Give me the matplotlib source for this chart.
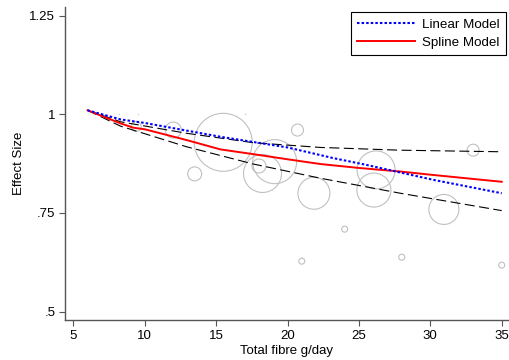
import matplotlib

matplotlib.use("Agg")
import matplotlib.pyplot as plt
import numpy as np

plt.rcParams["font.family"] = ["Liberation Sans", "DejaVu Sans"]

# study points (fibre g/day, effect size, bubble radius in px)
study_x = [12.0, 15.5, 13.5, 20.7, 19.1, 18.25, 18.0, 21.85, 26.2, 26.05, 33.0, 30.95,
           24.0, 21.0, 28.0, 35.0, 9.4]
study_y = [0.960, 0.929, 0.849, 0.960, 0.880, 0.850, 0.869, 0.800, 0.859, 0.808, 0.909,
           0.759, 0.709, 0.628, 0.638, 0.618, 0.969]
study_r = [8, 29, 7, 6, 22, 19, 7, 16, 19, 17, 6, 15, 3, 3, 3, 3, 5]
dot_x = [8.2, 9.55, 17.0]
dot_y = [1.0, 1.0, 1.0]

lin_x = [6, 8.3, 10, 15.3, 20, 23.2, 25.5, 27.6, 30.2, 35]
lin_y = [1.010, 0.987, 0.978, 0.943, 0.916, 0.889, 0.872, 0.855, 0.834, 0.800]

spl_x = [6, 8.3, 9.2, 10, 12.9, 15.3, 17.6, 20, 22.3, 25, 27.9, 30, 35]
spl_y = [1.010, 0.977, 0.966, 0.962, 0.935, 0.911, 0.899, 0.886, 0.874, 0.864, 0.855, 0.847, 0.829]

up_x = [6, 8.3, 12.9, 17.6, 22.3, 27.9, 35]
up_y = [1.010, 0.981, 0.952, 0.928, 0.916, 0.909, 0.905]
lo_x = [6, 8.3, 12.9, 17.6, 22.3, 27.9, 35]
lo_y = [1.010, 0.970, 0.918, 0.874, 0.838, 0.800, 0.756]

xticks = [5, 10, 15, 20, 25, 30, 35]
yticks = [0.5, 0.75, 1.0, 1.25]
ytick_labels = [".5", ".75", "1", "1.25"]


def main():
    fig = plt.figure(figsize=(5.1, 3.6), dpi=100)
    ax = fig.add_axes([0.1275, 0.110, 0.868, 0.871])

    sizes = [(1.44 * r) ** 2 for r in study_r]
    ax.scatter(study_x, study_y, s=sizes, facecolors="none", edgecolors="#c0c0c0",
               linewidths=0.8, zorder=1)
    ax.scatter(dot_x, dot_y, s=1.0, color="#c8c8c8", linewidths=0, zorder=1)

    ax.plot(up_x, up_y, color="black", lw=0.8, dashes=(9, 4), zorder=2)
    ax.plot(lo_x, lo_y, color="black", lw=0.8, dashes=(9, 4), zorder=2)
    ax.plot(spl_x, spl_y, color="red", lw=1.4, label="Spline Model", zorder=3)
    ax.plot(lin_x, lin_y, color="blue", lw=1.5, dashes=(1.2, 1.0), label="Linear Model",
            zorder=4)

    ax.set_xlim(4.42, 35.42)
    ax.set_ylim(0.478, 1.272)
    ax.set_xticks(xticks)
    ax.set_yticks(yticks)
    ax.set_yticklabels(ytick_labels)
    for s in ("top", "right"):
        ax.spines[s].set_visible(False)
    for s in ("left", "bottom"):
        ax.spines[s].set_color("#555555")
        ax.spines[s].set_linewidth(1.0)
    ax.tick_params(direction="out", length=4, width=0.8, color="#555555",
                   labelsize=9.5, pad=3)
    ax.set_xlabel("Total fibre g/day", fontsize=9.5, labelpad=2)
    ax.set_ylabel("Effect Size", fontsize=9.5, labelpad=3)

    h, l = ax.get_legend_handles_labels()
    leg = ax.legend(h[::-1], l[::-1], loc="upper right",
                    bbox_to_anchor=(505.7 / 510, 1 - 12.3 / 360),
                    bbox_transform=fig.transFigure, fontsize=9.6, handlelength=4.3,
                    fancybox=False, edgecolor="black", framealpha=1,
                    borderaxespad=0, labelspacing=0.45, handletextpad=0.55,
                    borderpad=0.45)
    leg.get_frame().set_linewidth(0.8)

    fig.savefig("out.png", dpi=100)
    plt.close(fig)


if __name__ == "__main__":
    main()
